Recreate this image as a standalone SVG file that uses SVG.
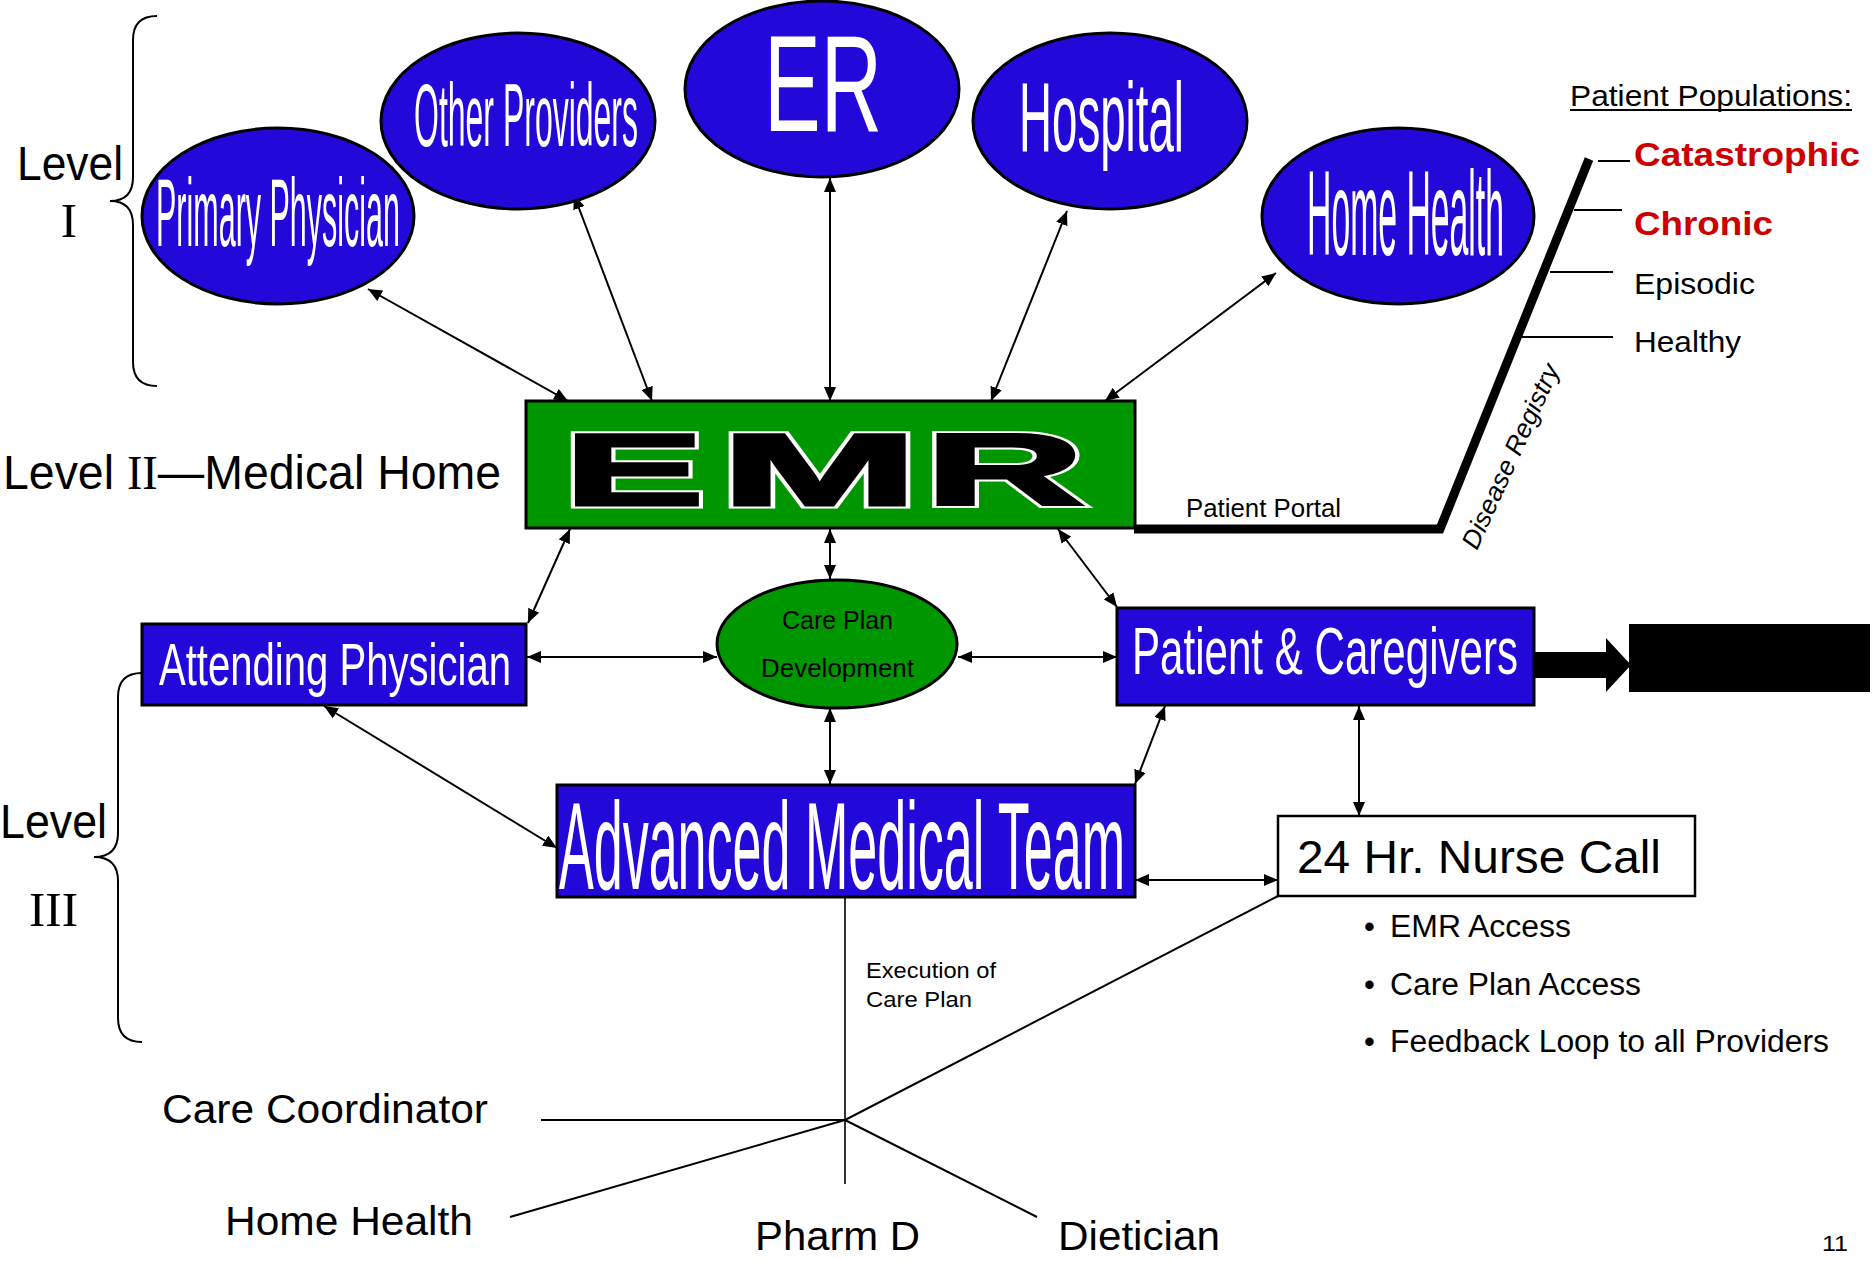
<svg xmlns="http://www.w3.org/2000/svg" width="1874" height="1261" viewBox="0 0 1874 1261">
<style>
text { font-family: "Liberation Sans", Arial, sans-serif; }
.w { fill: #ffffff; }
.k { fill: #000000; }
.blue { fill: #2309d9; stroke: #000; stroke-width: 3; }
.green { fill: #009600; stroke: #000; stroke-width: 3; }
.serif { font-family: "Liberation Serif", "Times New Roman", serif; }
.arr { stroke: #000; stroke-width: 2; fill: none; marker-start: url(#ah); marker-end: url(#ah); }
.ln { stroke: #000; stroke-width: 2; fill: none; }
.red { fill: #cc0000; font-weight: bold; }
</style>
<defs>
<marker id="ah" viewBox="0 0 14 12" refX="14" refY="6" markerWidth="14" markerHeight="12" markerUnits="userSpaceOnUse" orient="auto-start-reverse">
<path d="M0,0 L14,6 L0,12 z" fill="#000"/>
</marker>
</defs>
<rect x="0" y="0" width="1874" height="1261" fill="#ffffff"/>

<g id="braces">
<path class="ln" d="M157,16 Q133,16 133,40 V177 Q133,201 110,201 Q133,201 133,225 V362 Q133,386 157,386"/>
<path class="ln" d="M142,673 Q118,673 118,697 V833 Q118,857 94,857 Q118,857 118,881 V1018 Q118,1042 142,1042"/>
</g>

<g id="level-labels" font-size="49">
<text x="17" y="180" textLength="106" lengthAdjust="spacingAndGlyphs">Level</text>
<text class="serif" x="69" y="237" text-anchor="middle">I</text>
<text x="3" y="489" textLength="498" lengthAdjust="spacingAndGlyphs">Level <tspan class="serif">II</tspan>—Medical Home</text>
<text x="0" y="838" textLength="107" lengthAdjust="spacingAndGlyphs">Level</text>
<text class="serif" x="29" y="926" textLength="49" lengthAdjust="spacingAndGlyphs">III</text>
</g>

<g id="connectors">
<line class="arr" x1="368" y1="289" x2="568" y2="401"/>
<line class="arr" x1="574" y1="195" x2="652" y2="401"/>
<line class="arr" x1="830" y1="178" x2="830" y2="401"/>
<line class="arr" x1="1067" y1="211" x2="991" y2="401"/>
<line class="arr" x1="1276" y1="273" x2="1105" y2="401"/>
<line class="arr" x1="570" y1="529" x2="528" y2="623"/>
<line class="arr" x1="830" y1="529" x2="830" y2="579"/>
<line class="arr" x1="1058" y1="529" x2="1117" y2="607"/>
<line class="arr" x1="527" y1="657" x2="717" y2="657"/>
<line class="arr" x1="958" y1="657" x2="1117" y2="657"/>
<line class="arr" x1="324" y1="706" x2="557" y2="848"/>
<line class="arr" x1="830" y1="708" x2="830" y2="784"/>
<line class="arr" x1="1165" y1="706" x2="1135" y2="784"/>
<line class="arr" x1="1359" y1="706" x2="1359" y2="816"/>
<line class="arr" x1="1135" y1="880" x2="1278" y2="880"/>
<line stroke="#000" stroke-width="1.6" x1="845" y1="897" x2="845" y2="1184"/>
<line class="ln" x1="1278" y1="896" x2="845" y2="1120"/>
<line class="ln" stroke-width="2.5" x1="541" y1="1120" x2="845" y2="1120"/>
<line class="ln" x1="510" y1="1217" x2="845" y2="1120"/>
<line class="ln" x1="845" y1="1120" x2="1037" y2="1217"/>
<polyline fill="none" stroke="#000" stroke-width="9" stroke-linejoin="miter" points="1134,529 1440,529 1589,159"/>
<line class="ln" x1="1598" y1="161" x2="1630" y2="161"/>
<line class="ln" x1="1574" y1="210" x2="1622" y2="210"/>
<line class="ln" x1="1550" y1="272" x2="1613" y2="272"/>
<line class="ln" x1="1522" y1="337" x2="1613" y2="337"/>
<polygon fill="#000" points="1534,652 1606,652 1606,638 1631,665 1606,692 1606,678 1534,678"/>
</g>

<g id="primary-physician">
<ellipse class="blue" cx="278" cy="216" rx="136" ry="88"/>
<text class="w" x="156" y="246" font-size="96" textLength="244" lengthAdjust="spacingAndGlyphs">Primary Physician</text>
</g>
<g id="other-providers">
<ellipse class="blue" cx="518" cy="121" rx="137" ry="88"/>
<text class="w" x="414" y="146" font-size="89" textLength="224" lengthAdjust="spacingAndGlyphs">Other Providers</text>
</g>
<g id="er">
<ellipse class="blue" cx="822" cy="89" rx="137" ry="88"/>
<text class="w" x="764" y="131" font-size="138" textLength="118" lengthAdjust="spacingAndGlyphs">ER</text>
</g>
<g id="hospital">
<ellipse class="blue" cx="1110" cy="121" rx="137" ry="88"/>
<text class="w" x="1019" y="151" font-size="98" textLength="165" lengthAdjust="spacingAndGlyphs">Hospital</text>
</g>
<g id="home-health-top">
<ellipse class="blue" cx="1398" cy="216" rx="136" ry="88"/>
<text class="w" x="1307" y="255" font-size="121" textLength="197" lengthAdjust="spacingAndGlyphs">Home Health</text>
</g>

<g id="emr">
<rect class="green" x="526" y="401" width="609" height="127"/>
<g font-size="102" font-weight="bold" stroke-linejoin="miter">
<text x="564" y="505" textLength="140" lengthAdjust="spacingAndGlyphs" fill="none" stroke="#fff" stroke-width="7">E</text>
<text x="721" y="505" textLength="197" lengthAdjust="spacingAndGlyphs" fill="none" stroke="#fff" stroke-width="7">M</text>
<text x="925" y="505" textLength="159" lengthAdjust="spacingAndGlyphs" fill="none" stroke="#fff" stroke-width="7">R</text>
<text x="564" y="505" textLength="140" lengthAdjust="spacingAndGlyphs" fill="#000" stroke="#000" stroke-width="3">E</text>
<text x="721" y="505" textLength="197" lengthAdjust="spacingAndGlyphs" fill="#000" stroke="#000" stroke-width="3">M</text>
<text x="925" y="505" textLength="159" lengthAdjust="spacingAndGlyphs" fill="#000" stroke="#000" stroke-width="3">R</text>
</g>
</g>

<g id="patient-portal">
<text x="1186" y="517" font-size="25" textLength="155" lengthAdjust="spacingAndGlyphs">Patient Portal</text>
<text x="1477" y="551" font-size="26" font-style="italic" transform="rotate(-65.5 1477 551)" textLength="200" lengthAdjust="spacingAndGlyphs">Disease Registry</text>
</g>

<g id="patient-populations">
<text x="1570" y="106" font-size="30" textLength="282" lengthAdjust="spacingAndGlyphs">Patient Populations:</text>
<line class="ln" x1="1570" y1="110" x2="1852" y2="110"/>
<text class="red" x="1634" y="166" font-size="33" textLength="226" lengthAdjust="spacingAndGlyphs">Catastrophic</text>
<text class="red" x="1634" y="235" font-size="33" textLength="139" lengthAdjust="spacingAndGlyphs">Chronic</text>
<text x="1634" y="294" font-size="30" textLength="121" lengthAdjust="spacingAndGlyphs">Episodic</text>
<text x="1634" y="352" font-size="30" textLength="107" lengthAdjust="spacingAndGlyphs">Healthy</text>
</g>

<g id="attending-physician">
<rect class="blue" x="142" y="624" width="384" height="81"/>
<text class="w" x="159" y="685" font-size="60" textLength="352" lengthAdjust="spacingAndGlyphs">Attending Physician</text>
</g>

<g id="care-plan">
<ellipse class="green" cx="837" cy="644" rx="120" ry="64"/>
<text x="782" y="629" font-size="25" textLength="111" lengthAdjust="spacingAndGlyphs">Care Plan</text>
<text x="761" y="677" font-size="25" textLength="153" lengthAdjust="spacingAndGlyphs">Development</text>
</g>

<g id="patient-caregivers">
<rect class="blue" x="1117" y="608" width="417" height="97"/>
<text class="w" x="1132" y="674" font-size="67" textLength="386" lengthAdjust="spacingAndGlyphs">Patient &amp; Caregivers</text>
</g>

<g id="black-box">
<rect x="1629" y="624" width="241" height="68" fill="#000"/>
</g>

<g id="advanced-medical-team">
<rect class="blue" x="557" y="785" width="578" height="112"/>
<text class="w" x="559" y="889" font-size="124" textLength="566" lengthAdjust="spacingAndGlyphs">Advanced Medical Team</text>
</g>

<g id="nurse-call">
<rect x="1278" y="816" width="417" height="80" fill="#fff" stroke="#000" stroke-width="2.5"/>
<text x="1297" y="873" font-size="47" textLength="364" lengthAdjust="spacingAndGlyphs">24 Hr. Nurse Call</text>
</g>

<g id="bullets" font-size="31">
<text x="1364" y="937">•</text>
<text x="1390" y="937" textLength="181" lengthAdjust="spacingAndGlyphs">EMR Access</text>
<text x="1364" y="995">•</text>
<text x="1390" y="995" textLength="251" lengthAdjust="spacingAndGlyphs">Care Plan Access</text>
<text x="1364" y="1052">•</text>
<text x="1390" y="1052" textLength="439" lengthAdjust="spacingAndGlyphs">Feedback Loop to all Providers</text>
</g>

<g id="execution-label" font-size="22">
<text x="866" y="978" textLength="130" lengthAdjust="spacingAndGlyphs">Execution of</text>
<text x="866" y="1007" textLength="106" lengthAdjust="spacingAndGlyphs">Care Plan</text>
</g>

<g id="team-members" font-size="40">
<text x="162" y="1123" textLength="326" lengthAdjust="spacingAndGlyphs">Care Coordinator</text>
<text x="225" y="1235" textLength="248" lengthAdjust="spacingAndGlyphs">Home Health</text>
<text x="755" y="1250" textLength="165" lengthAdjust="spacingAndGlyphs">Pharm D</text>
<text x="1058" y="1250" textLength="162" lengthAdjust="spacingAndGlyphs">Dietician</text>
</g>

<text x="1822" y="1251" font-size="22" textLength="26" lengthAdjust="spacingAndGlyphs">11</text>
</svg>
